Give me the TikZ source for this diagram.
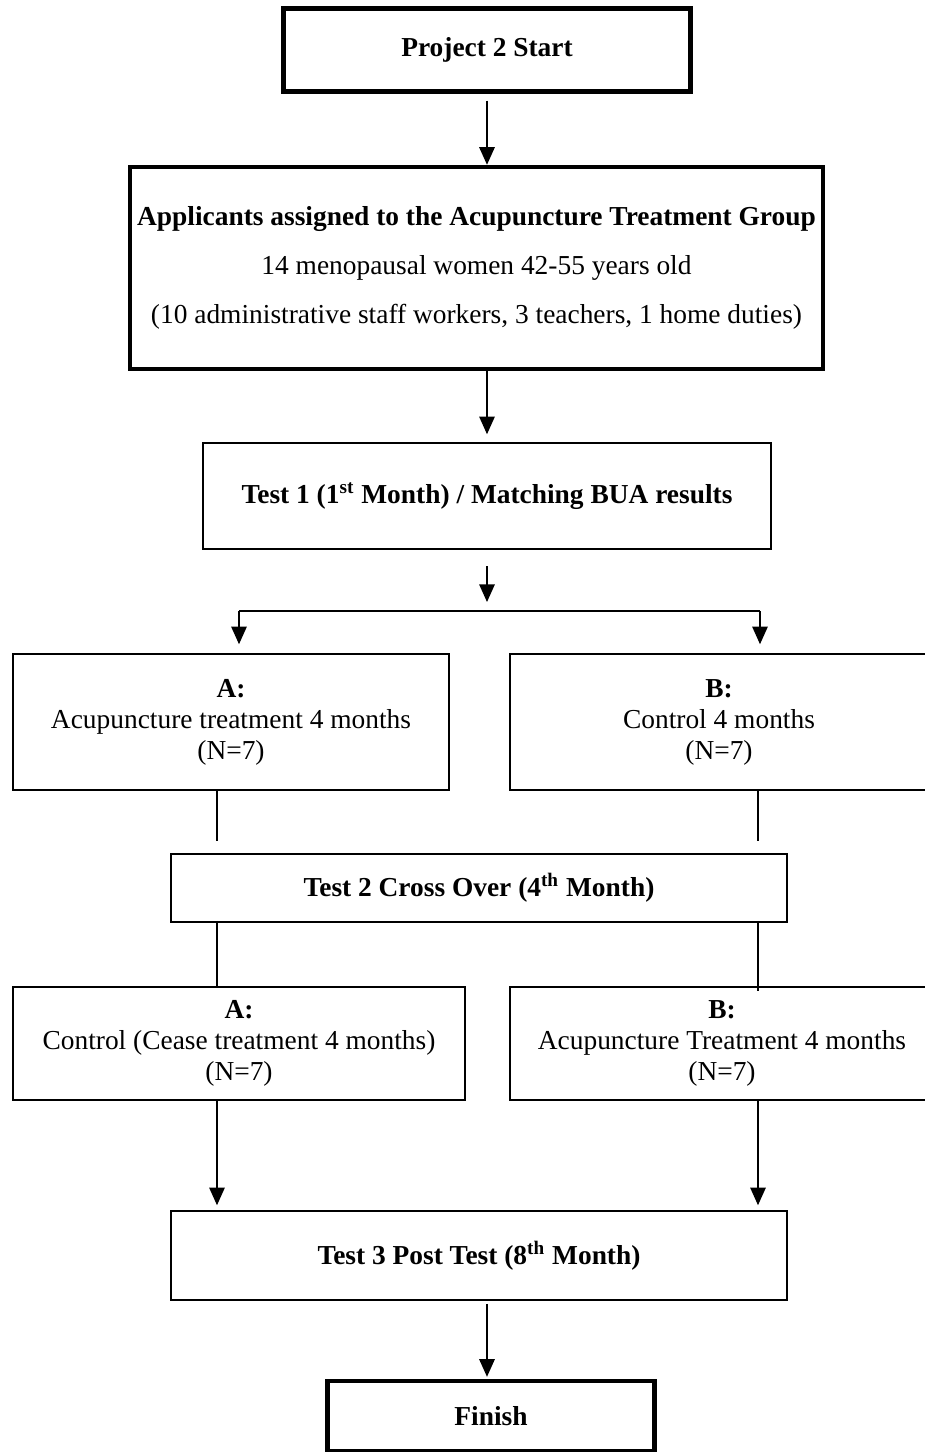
\documentclass[tikz,border=0pt]{standalone}
\usepackage{fontspec}
\setmainfont{Liberation Serif}
\usetikzlibrary{arrows.meta, positioning}

\newcommand{\pxu}{0.0159cm}

\begin{document}
\begin{tikzpicture}[
    x=\pxu, y=-\pxu,
    box/.style={rectangle, draw=black, line width=0.7pt, align=center, inner sep=0pt, font=\fontsize{12.4}{14}\selectfont},
    heavybox/.style={box, line width=2pt},
    arrow/.style={-{Triangle[length=8pt, width=7pt]}, line width=0.7pt},
    link/.style={line width=0.7pt}
]
\useasboundingbox (0,0) rectangle (924,1452);

% Start
\node[heavybox, minimum width=407*\pxu, minimum height=83*\pxu] (start) at (487,50) {\textbf{Project 2 Start}};

% Gruppe
\node[heavybox, minimum width=693*\pxu, minimum height=202*\pxu] (appl) at (476.5,268) {\textbf{Applicants assigned to the Acupuncture Treatment Group}\\[8pt]
    14 menopausal women 42-55 years old\\[8pt]
    (10 administrative staff workers, 3 teachers, 1 home duties)};

% Test 1
\node[box, minimum width=568*\pxu, minimum height=106*\pxu] (test1) at (487,496) {\textbf{Test 1 (1\textsuperscript{st} Month) / Matching BUA results}};

% Spalten und Aufteilung
\coordinate (colM) at (487,0);
\coordinate (colA) at (217,0);
\coordinate (colB) at (758,0);
\coordinate (t1out) at (487,566);
\coordinate (t1in) at (487,602);
\coordinate (splitL) at (239,611);
\coordinate (splitR) at (760,611);

% Gruppen A / B
\node[box, minimum width=436*\pxu, minimum height=136*\pxu] (grpA) at (231,722) {\textbf{A:}\\Acupuncture treatment 4 months\\(N=7)};
\node[box, minimum width=418*\pxu, minimum height=136*\pxu] (grpB) at (719,722) {\textbf{B:}\\Control 4 months\\(N=7)};

% Test 2
\node[box, minimum width=616*\pxu, minimum height=68*\pxu] (cross) at (479,888) {\textbf{Test 2 Cross Over (4\textsuperscript{th} Month)}};

% nach Cross Over
\node[box, minimum width=452*\pxu, minimum height=113*\pxu] (swapA) at (239,1043.5) {\textbf{A:}\\Control (Cease treatment 4 months)\\(N=7)};
\node[box, minimum width=424*\pxu, minimum height=113*\pxu] (swapB) at (722,1043.5) {\textbf{B:}\\Acupuncture Treatment 4 months\\(N=7)};

% Test 3
\node[box, minimum width=616*\pxu, minimum height=89*\pxu] (post) at (479,1255.5) {\textbf{Test 3 Post Test (8\textsuperscript{th} Month)}};

% Ende
\node[heavybox, minimum width=327*\pxu, minimum height=70*\pxu] (finish) at (491,1416) {\textbf{Finish}};

% Pfeile
\draw[arrow] ([yshift=-7*\pxu]colM |- start.south) -- (colM |- appl.north);
\draw[arrow] (colM |- appl.south) -- ([yshift=8*\pxu]colM |- test1.north);
\draw[arrow] (t1out) -- (t1in);
\draw[link] (splitL) -- (splitR);
\draw[arrow] (splitL) -- ([yshift=9*\pxu]splitL |- grpA.north);
\draw[arrow] (splitR) -- ([yshift=9*\pxu]splitR |- grpA.north);
\draw[link] (colA |- grpA.south) -- ([yshift=12*\pxu]colA |- cross.north);
\draw[link] (colB |- grpB.south) -- ([yshift=12*\pxu]colB |- cross.north);
\draw[link] ([yshift=2*\pxu]colA |- cross.south) -- (colA |- swapA.north);
\draw[link] ([yshift=2*\pxu]colB |- cross.south) -- ([yshift=-5*\pxu]colB |- swapB.north);
\draw[arrow] (colA |- swapA.south) -- ([yshift=5*\pxu]colA |- post.north);
\draw[arrow] (colB |- swapB.south) -- ([yshift=5*\pxu]colB |- post.north);
\draw[arrow] ([yshift=-3*\pxu]colM |- post.south) -- ([yshift=2*\pxu]colM |- finish.north);

\end{tikzpicture}
\end{document}
